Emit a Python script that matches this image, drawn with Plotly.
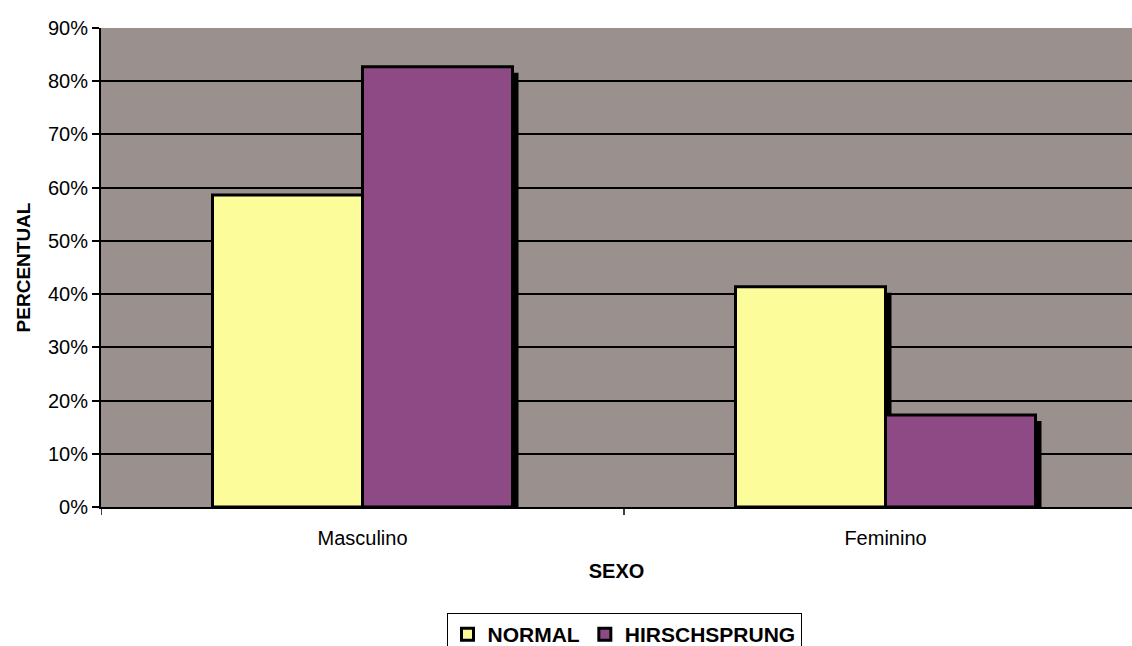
import plotly.graph_objects as go

# Sex distribution (percent) by group
categories = ["Masculino", "Feminino"]
normal = [58.6, 41.4]
hirschsprung = [82.7, 17.3]
y_ticks = [0, 10, 20, 30, 40, 50, 60, 70, 80, 90]
y_tick_labels = [f"{v}%" for v in y_ticks]

W, H = 1132, 646
M_L, M_T, M_B = 101, 28, 139
px_per_cat = 523.0                # horizontal pixels per category slot
plot_w = W - M_L
plot_h = H - M_T - M_B
x_hi = -0.5 + plot_w / px_per_cat
px_per_pct = plot_h / 90.0

bar_w = 150 / px_per_cat
sh_dx = 6 / px_per_cat            # drop-shadow shift to the right
sh_dy = 6 / px_per_pct            # drop-shadow shift downward

xpos = list(range(len(categories)))
font = "Liberation Sans, Arial, sans-serif"

fig = go.Figure()

# drop shadows, drawn first so the bars sit on top
for vals, off in ((normal, -bar_w), (hirschsprung, 0.0)):
    fig.add_trace(go.Bar(
        x=xpos, y=[v - sh_dy for v in vals],
        offset=off + sh_dx, width=bar_w,
        marker=dict(color="black", line=dict(width=0)),
        showlegend=False, hoverinfo="skip",
    ))

fig.add_trace(go.Bar(
    x=xpos, y=normal, name="NORMAL",
    offset=-bar_w, width=bar_w,
    marker=dict(color="#fcfc9a", line=dict(color="black", width=3)),
))
fig.add_trace(go.Bar(
    x=xpos, y=hirschsprung, name="HIRSCHSPRUNG",
    offset=0.0, width=bar_w,
    marker=dict(color="#8e4a84", line=dict(color="black", width=3)),
))

fig.update_layout(
    width=W, height=H,
    margin=dict(l=M_L, r=0, t=M_T, b=M_B, autoexpand=False),
    barmode="overlay",
    paper_bgcolor="white",
    plot_bgcolor="#9a908e",
    font=dict(family=font, color="black", size=20),
    xaxis=dict(
        range=[-0.5, x_hi], automargin=False,
        tickmode="array", tickvals=xpos, ticktext=categories,
        ticks="", showgrid=False, zeroline=False,
        showline=True, linecolor="black", linewidth=2,
        tickfont=dict(size=20),
        ticklabelstandoff=12,
        title=dict(text="<b>SEXO</b>", font=dict(size=20), standoff=16),
    ),
    yaxis=dict(
        range=[0, 90], automargin=False,
        tickmode="array", tickvals=y_ticks, ticktext=y_tick_labels,
        ticks="outside", ticklen=7, tickcolor="black", tickwidth=1.5,
        showgrid=True, gridcolor="black", gridwidth=1.5,
        zeroline=False,
        showline=True, linecolor="black", linewidth=2,
        tickfont=dict(size=20),
        title=dict(text="<b>PERCENTUAL</b>", font=dict(size=19), standoff=12),
    ),
    legend=dict(
        orientation="h",
        x=(624 - M_L) / plot_w, xanchor="center",
        y=(507 - 613) / plot_h, yanchor="top",
        bgcolor="white", bordercolor="black", borderwidth=1,
        font=dict(size=21, family=font, weight="bold"),
        itemwidth=30, tracegroupgap=0,
        traceorder="normal",
    ),
    showlegend=True,
)

# category boundary ticks on the x axis
for xb in (-0.5, 0.5):
    fig.add_shape(type="line", xref="x", yref="paper", x0=xb, x1=xb, y0=0, y1=-8 / plot_h,
                  line=dict(color="black", width=1.5))

fig.write_html("out.html")
